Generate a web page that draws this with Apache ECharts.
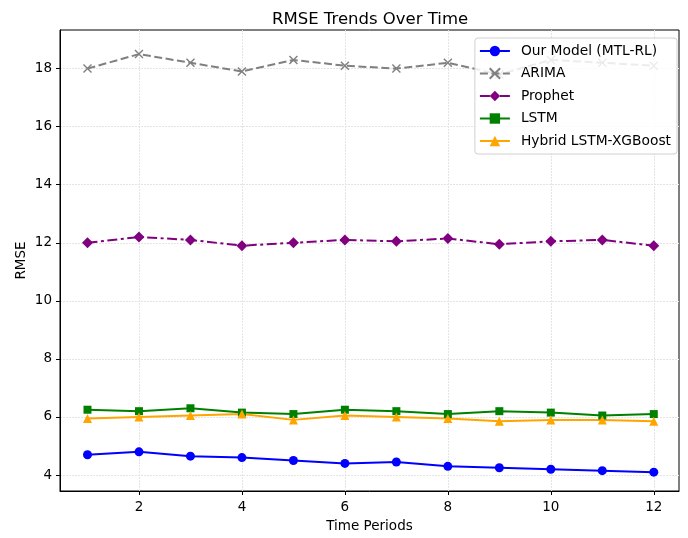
<!DOCTYPE html>
<html>
<head>
<meta charset="utf-8">
<script src="https://cdn.jsdelivr.net/npm/echarts@6/dist/echarts.min.js"></script>
<style>
  html, body { margin: 0; padding: 0; background: #fff; }
  #chart { width: 688px; height: 538px; }
</style>
</head>
<body>
<div id="chart"></div>
<script>
const periods = [1, 2, 3, 4, 5, 6, 7, 8, 9, 10, 11, 12]
const ourModel = [4.7, 4.8, 4.65, 4.6, 4.5, 4.4, 4.45, 4.3, 4.25, 4.2, 4.15, 4.1]
const arima = [18.0, 18.5, 18.2, 17.9, 18.3, 18.1, 18.0, 18.2, 17.8, 18.3, 18.2, 18.1]
const prophet = [12.0, 12.2, 12.1, 11.9, 12.0, 12.1, 12.05, 12.15, 11.95, 12.05, 12.1, 11.9]
const lstm = [6.25, 6.2, 6.3, 6.15, 6.1, 6.25, 6.2, 6.1, 6.2, 6.15, 6.05, 6.1]
const hybrid = [5.95, 6.0, 6.05, 6.1, 5.9, 6.05, 6.0, 5.95, 5.85, 5.9, 5.9, 5.85]
const xTicks = [2, 4, 6, 8, 10, 12]
const yTicks = [4, 6, 8, 10, 12, 14, 16, 18]

const font = 'DejaVu Sans'
const pairs = vals => periods.map((p, i) => [p, vals[i]])
const crossPath = 'path://M0,0L10,10M10,0L0,10'

function lineSeries(name, vals, color, symbol, size, dash) {
  return {
    name,
    type: 'line',
    data: pairs(vals),
    symbol,
    symbolSize: size,
    showAllSymbol: true,
    lineStyle: { color, width: 2, type: dash || 'solid' },
    itemStyle: symbol === crossPath
      ? { color: 'transparent', borderColor: color, borderWidth: 1.4 }
      : { color, borderColor: color, borderWidth: 0 },
    emphasis: { disabled: true },
    z: 3,
  }
}

const chart = echarts.init(document.getElementById('chart'))
chart.setOption({
  animation: false,
  backgroundColor: '#fff',
  textStyle: { fontFamily: font },
  title: {
    text: 'RMSE Trends Over Time',
    left: 267,
    top: 6,
    textStyle: { fontFamily: font, fontSize: 16.5, fontWeight: 'normal', color: '#000' },
  },
  grid: {
    left: 60, right: 9, top: 30, bottom: 43,
    show: true, borderColor: '#000', borderWidth: 1, backgroundColor: '#fff',
  },
  legend: {
    orient: 'vertical',
    right: 11,
    top: 38,
    itemWidth: 30,
    itemHeight: 13,
    itemGap: 8.5,
    padding: [6, 6, 6, 4],
    backgroundColor: 'rgba(255,255,255,0.85)',
    borderColor: '#d0d0d0',
    borderWidth: 1,
    borderRadius: 3,
    textStyle: { fontFamily: font, fontSize: 13.8, color: '#000', padding: [0, 0, 0, 6] },
    data: ['Our Model (MTL-RL)', 'ARIMA', 'Prophet', 'LSTM', 'Hybrid LSTM-XGBoost'],
  },
  xAxis: {
    type: 'value',
    min: 0.466,
    max: 12.49,
    name: 'Time Periods',
    nameLocation: 'middle',
    nameGap: 28,
    nameMoveOverlap: false,
    nameTextStyle: { fontFamily: font, fontSize: 13.5, color: '#000' },
    axisLine: { show: true, onZero: false, lineStyle: { color: '#000', width: 1 } },
    axisTick: { show: true, length: 4, customValues: xTicks, lineStyle: { color: '#000' } },
    axisLabel: { customValues: xTicks, margin: 9, fontFamily: font, fontSize: 13.5, color: '#000' },
    splitLine: { show: true, lineStyle: { color: '#e4e4e4', width: 1, type: [2, 1] } },
  },
  yAxis: {
    type: 'value',
    min: 3.45,
    max: 19.33,
    name: 'RMSE',
    nameLocation: 'middle',
    nameGap: 32,
    nameMoveOverlap: false,
    nameTextStyle: { fontFamily: font, fontSize: 13.5, color: '#000' },
    axisLine: { show: true, onZero: false, lineStyle: { color: '#000', width: 1 } },
    axisTick: { show: true, length: 4, customValues: yTicks, lineStyle: { color: '#000' } },
    axisLabel: { customValues: yTicks, margin: 8, fontFamily: font, fontSize: 13.5, color: '#000' },
    splitLine: { show: true, lineStyle: { color: '#e4e4e4', width: 1, type: [2, 1] } },
  },
  series: [
    lineSeries('Our Model (MTL-RL)', ourModel, '#0000ff', 'circle', 9),
    lineSeries('ARIMA', arima, '#808080', crossPath, 8, [8, 3.5]),
    lineSeries('Prophet', prophet, '#800080', 'diamond', 11, [10, 3.5, 3, 3.5]),
    lineSeries('LSTM', lstm, '#008000', 'rect', 8),
    lineSeries('Hybrid LSTM-XGBoost', hybrid, '#ffa500', 'triangle', 9),
  ],
})
</script>
</body>
</html>
